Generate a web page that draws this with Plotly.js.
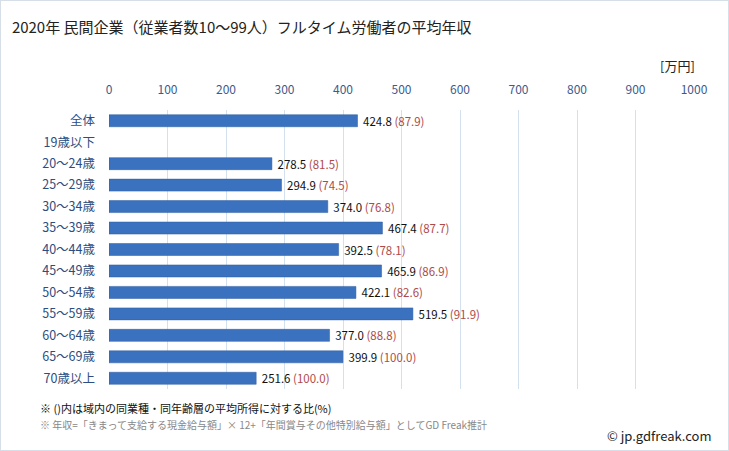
<!DOCTYPE html>
<html><head><meta charset="utf-8">
<script src="https://cdn.plot.ly/plotly-3.0.1.min.js"></script>
<style>html,body{margin:0;padding:0;background:#fff}#c{width:729px;height:451px;box-sizing:border-box;border:1px solid #d6dee8}</style>
</head><body><div id="c"></div>
<script>
const categories = ["全体","19歳以下","20～24歳","25～29歳","30～34歳","35～39歳","40～44歳","45～49歳","50～54歳","55～59歳","60～64歳","65～69歳","70歳以上"];
const income = [424.8,null,278.5,294.9,374.0,467.4,392.5,465.9,422.1,519.5,377.0,399.9,251.6];
const ratio = [87.9,null,81.5,74.5,76.8,87.7,78.1,86.9,82.6,91.9,88.8,100.0,100.0];
const xTicks = [0,100,200,300,400,500,600,700,800,900,1000];

const labels = income.map((v,i)=> v==null ? "" : '&nbsp;'+v.toFixed(1)+' <span style="color:#b04a4a">('+ratio[i].toFixed(1)+')</span>');

const trace = {
  type:'bar', orientation:'h',
  y: categories, x: income,
  width: 0.56,
  marker:{color:'#3b72c0', line:{color:'#2d5a9c', width:0.5}},
  text: labels, textposition:'outside', cliponaxis:false, constraintext:'none',
  textfont:{family:'"Noto Sans CJK JP", sans-serif', size:11.5, color:'#111'},
  hoverinfo:'none'
};

const layout = {
  width:727, height:449,
  margin:{l:108, r:34, t:109, b:61},
  paper_bgcolor:'#fff', plot_bgcolor:'#fff',
  showlegend:false,
  bargap:0.44,
  font:{family:'"Noto Sans CJK JP", sans-serif'},
  title:{text:'2020年 民間企業（従業者数10～99人）フルタイム労働者の平均年収', x:0.015, xanchor:'left', y:0.94, yanchor:'middle', font:{size:15, color:'#222'}},
  xaxis:{side:'top', range:[0,1000], tickvals:xTicks, ticktext:xTicks.map(String), showgrid:true, gridcolor:'#d3e1ef', gridwidth:1, zeroline:false, showline:false, ticks:'', tickfont:{size:12, color:'#3d5a8c', family:'"Noto Sans CJK JP", sans-serif'}, ticklabelstandoff:13},
  yaxis:{type:'category', autorange:false, range:[12.5,-0.5], showgrid:false, zeroline:false, showline:false, ticks:'', tickfont:{size:12.5, color:'#2d4d80'}, ticklabelstandoff:13},
  annotations:[
    {xref:'paper', yref:'paper', x:1.005, y:1.12, xanchor:'right', yanchor:'bottom', text:'[万円]', showarrow:false, font:{size:13, color:'#222'}},
    {xref:'paper', yref:'paper', x:-0.122, y:-0.068, xanchor:'left', yanchor:'middle', text:'※ ()内は域内の同業種・同年齢層の平均所得に対する比(%)', showarrow:false, font:{size:11, color:'#111'}},
    {xref:'paper', yref:'paper', x:-0.122, y:-0.129, xanchor:'left', yanchor:'middle', text:'※ 年収=「きまって支給する現金給与額」× 12+「年間賞与その他特別給与額」としてGD Freak推計', showarrow:false, font:{size:10, color:'#888'}},
    {xref:'paper', yref:'paper', x:1.035, y:-0.168, xanchor:'right', yanchor:'middle', text:'© jp.gdfreak.com', showarrow:false, font:{size:13, color:'#222'}}
  ]
};
Plotly.newPlot('c',[trace],layout,{displayModeBar:false, staticPlot:true});
</script></body></html>
